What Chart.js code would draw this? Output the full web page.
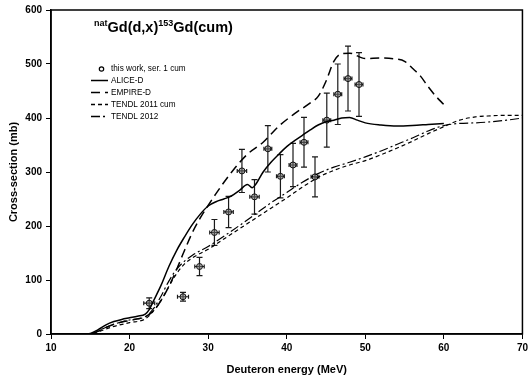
<!DOCTYPE html>
<html>
<head>
<meta charset="utf-8" />
<title>natGd(d,x)153Gd(cum)</title>
<script src="https://cdn.jsdelivr.net/npm/chart.js@4.4.0/dist/chart.umd.min.js"></script>
<style>
	html, body { margin: 0; padding: 0; background: #fff; }
	#wrap { width: 531px; height: 383px; position: relative; }
</style>
</head>
<body>
<div id="wrap"><canvas id="gdChart" width="531" height="383"></canvas></div>

<script>
// this work, ser. 1 cum (energy, cross-section and their errors)
var expE   = [22.5, 26.8, 28.9, 30.8, 32.6, 34.3, 35.9, 37.6, 39.2, 40.8, 42.2, 43.6, 45.1, 46.5, 47.8, 49.2]
var expXS  = [57, 69, 125, 188, 226, 302, 254, 343, 292, 313, 355, 291, 396, 444, 473, 462]
var expDE  = [0.7, 0.7, 0.6, 0.6, 0.6, 0.6, 0.6, 0.5, 0.5, 0.5, 0.5, 0.5, 0.5, 0.5, 0.5, 0.5]
var expDXS = [10, 8, 17, 24, 29, 40, 32, 43, 40, 40, 46, 37, 50, 56, 60, 59]

// ALICE-D
var aliceE  = [10,14,15,16,17,18,19,20,21,22,22.5,23,24,25,26,27,28,29,30,31,32,33,34,35,35.6,36,37,38,39,40,41,42,43,44,45,46,47,48,49,50,52,54,56,58,60]
var aliceXS = [0,0,1,8,17,23,27,30,33,37,45,60,90,125,155,180,203,222,237,245,250,256,266,277,271,276,300,318,333,347,358,368,378,387,393,396,400,401,396,391,387,385,386,388,390]

// EMPIRE-D
var empE  = [10,14,15,16,17,18,19,20,21,22,23,24,25,26,27,28,29,30,31,33,35,37,39,41,43,44,45,46,47,48,50,52,54,55,56,57,58,59,60]
var empXS = [0,0,0,5,12,18,22,25,28,32,42,62,88,120,155,188,215,238,260,300,333,355,385,408,428,440,468,505,519,520,510,511,509,505,492,478,458,440,425]

// TENDL 2011 cum
var t11E  = [10,15,16,18,20,22,23,24,25,26,27,28,30,32,34,36,38,40,42,44,46,48,50,52,54,56,58,60,62,64,66,68,70]
var t11XS = [0,0,4,14,21,28,42,62,88,112,130,141,157,176,195,214,233,252,272,290,303,313,321,332,344,357,371,384,396,402,404,405,405]

// TENDL 2012
var t12E  = [10,15,16,18,20,22,23,24,25,26,27,28,30,32,34,36,38,40,42,44,46,48,50,52,54,56,58,60,62,64,66,68,70]
var t12XS = [0,0,6,18,26,32,46,70,98,120,135,146,162,181,201,222,243,262,281,297,309,318,328,339,351,363,376,386,390,391,393,396,400]

var xTicks = [10, 20, 30, 40, 50, 60, 70]
var yTicks = [0, 100, 200, 300, 400, 500, 600]

var FAM = '"Liberation Sans", Arial, Helvetica, sans-serif'

function pairs(xs, ys) {
	var out = []
	for (var i = 0; i < xs.length; i++) out.push({x: xs[i], y: ys[i]})
	return out
}

var DASH_EMP = [9, 5]
var DASH_T11 = [4, 3]
var DASH_T12 = [9, 3, 2, 3]

// error bars for the measured points
var errorBars = {
	id: 'errorBars',
	beforeDatasetsDraw: function(chart) {
		var ctx = chart.ctx, xs = chart.scales.x, ys = chart.scales.y
		ctx.save()
		ctx.strokeStyle = '#1a1a1a'
		ctx.lineWidth = 1.2
		for (var i = 0; i < expE.length; i++) {
			var px = xs.getPixelForValue(expE[i])
			var py = ys.getPixelForValue(expXS[i])
			var top = ys.getPixelForValue(expXS[i] + expDXS[i])
			var bot = ys.getPixelForValue(expXS[i] - expDXS[i])
			var l = xs.getPixelForValue(expE[i] - expDE[i])
			var r = xs.getPixelForValue(expE[i] + expDE[i])
			ctx.beginPath()
			ctx.moveTo(px, top); ctx.lineTo(px, bot)
			ctx.moveTo(px - 3, top); ctx.lineTo(px + 3, top)
			ctx.moveTo(px - 3, bot); ctx.lineTo(px + 3, bot)
			ctx.moveTo(l, py); ctx.lineTo(r, py)
			ctx.moveTo(l, py - 2); ctx.lineTo(l, py + 2)
			ctx.moveTo(r, py - 2); ctx.lineTo(r, py + 2)
			ctx.stroke()
		}
		ctx.restore()
	}
}

// frame, title and legend
var decorations = {
	id: 'decorations',
	afterDraw: function(chart) {
		var ctx = chart.ctx, a = chart.chartArea
		ctx.save()
		ctx.strokeStyle = '#000'
		ctx.lineWidth = 1.5
		ctx.strokeRect(a.left, a.top, a.right - a.left, a.bottom - a.top)

		// title with superscripts
		ctx.fillStyle = '#000'
		ctx.textBaseline = 'alphabetic'
		var x = 94, base = 31.5
		var parts = [['nat', true], ['Gd(d,x)', false], ['153', true], ['Gd(cum)', false]]
		parts.forEach(function(p) {
			ctx.font = 'bold ' + (p[1] ? 9 : 14.5) + 'px ' + FAM
			ctx.fillText(p[0], x, p[1] ? base - 6 : base)
			x += ctx.measureText(p[0]).width
		})

		// legend
		var items = [
			{label: 'this work, ser. 1 cum', marker: true, y: 69},
			{label: 'ALICE-D', dash: [], y: 80.5},
			{label: 'EMPIRE-D', dash: DASH_EMP, y: 92.5},
			{label: 'TENDL 2011 cum', dash: DASH_T11, y: 104.5},
			{label: 'TENDL 2012', dash: DASH_T12, y: 116.5}
		]
		ctx.font = '8.2px ' + FAM
		ctx.textBaseline = 'middle'
		items.forEach(function(it) {
			if (it.marker) {
				ctx.beginPath()
				ctx.lineWidth = 1.2
				ctx.arc(101.5, it.y, 2.2, 0, Math.PI * 2)
				ctx.stroke()
			} else {
				ctx.beginPath()
				ctx.lineWidth = 1.5
				ctx.setLineDash(it.dash)
				ctx.moveTo(91, it.y); ctx.lineTo(108, it.y)
				ctx.stroke()
				ctx.setLineDash([])
			}
			ctx.fillText(it.label, 111, it.y)
		})
		ctx.restore()
	}
}

function lineSet(label, xs, ys, dash, width) {
	return {
		type: 'line',
		label: label,
		data: pairs(xs, ys),
		borderColor: '#000',
		borderWidth: width,
		borderDash: dash,
		pointRadius: 0,
		fill: false,
		cubicInterpolationMode: 'monotone'
	}
}

new Chart('gdChart', {
	type: 'scatter',
	data: {
		datasets: [
			lineSet('ALICE-D', aliceE, aliceXS, [], 1.5),
			lineSet('EMPIRE-D', empE, empXS, DASH_EMP, 1.5),
			lineSet('TENDL 2011 cum', t11E, t11XS, DASH_T11, 1.2),
			lineSet('TENDL 2012', t12E, t12XS, DASH_T12, 1.2),
			{
				type: 'scatter',
				label: 'this work, ser. 1 cum',
				data: pairs(expE, expXS),
				pointStyle: 'circle',
				pointRadius: 3,
				borderWidth: 1,
				borderColor: '#111',
				backgroundColor: 'rgba(110,110,110,0.55)'
			}
		]
	},
	options: {
		responsive: false,
		animation: false,
		devicePixelRatio: 1,
		layout: {padding: {top: 10, right: 6, left: 0, bottom: 0}},
		plugins: {
			legend: {display: false},
			tooltip: {enabled: false}
		},
		scales: {
			x: {
				type: 'linear', min: 10, max: 70,
				afterBuildTicks: function(s) { s.ticks = xTicks.map(function(v) { return {value: v} }) },
				afterFit: function(s) { s.height = 49 },
				ticks: {color: '#000', font: {family: FAM, size: 10, weight: 'bold'}, padding: 3, maxRotation: 0},
				grid: {drawOnChartArea: false, drawTicks: true, tickLength: 5, color: '#000'},
				border: {color: '#000', width: 1.5},
				title: {display: true, text: 'Deuteron energy (MeV)', color: '#000',
					font: {family: FAM, size: 11, weight: 'bold'}, padding: {top: 4, bottom: 6}}
			},
			y: {
				type: 'linear', min: 0, max: 600,
				afterBuildTicks: function(s) { s.ticks = yTicks.map(function(v) { return {value: v} }) },
				afterFit: function(s) { s.width = 51 },
				ticks: {color: '#000', font: {family: FAM, size: 10, weight: 'bold'}, padding: 4},
				grid: {drawOnChartArea: false, drawTicks: true, tickLength: 5, color: '#000'},
				border: {color: '#000', width: 1.5},
				title: {display: true, text: 'Cross-section (mb)', color: '#000',
					font: {family: FAM, size: 11, weight: 'bold'}, padding: {top: 7.5, bottom: 2}}
			}
		}
	},
	plugins: [errorBars, decorations]
})
</script>
</body>
</html>
